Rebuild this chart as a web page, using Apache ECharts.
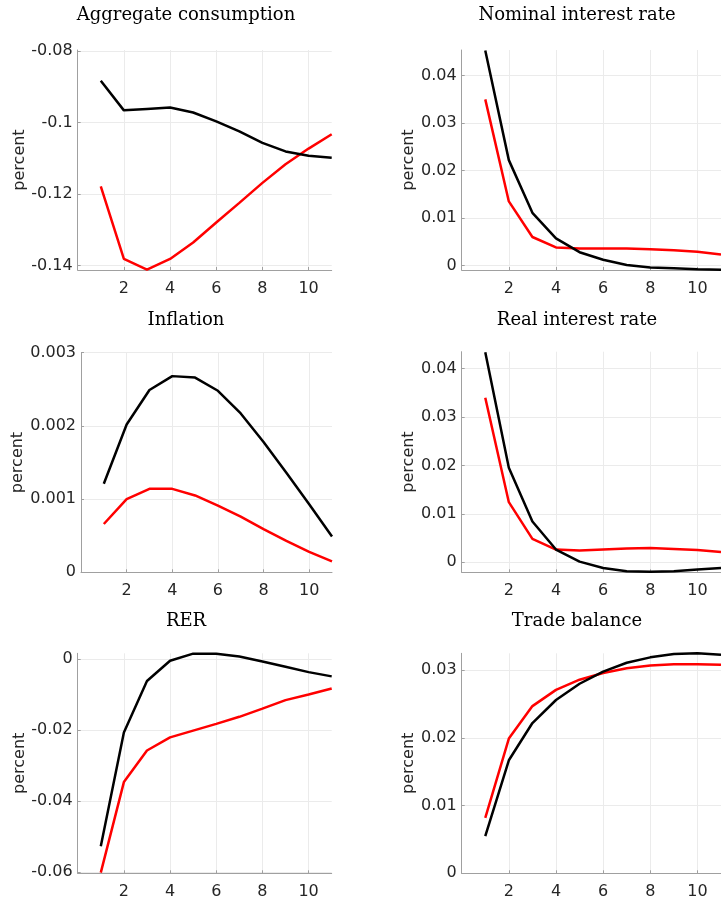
<!DOCTYPE html>
<html>
<head>
<meta charset="utf-8">
<script src="https://cdn.jsdelivr.net/npm/echarts@6/dist/echarts.min.js"></script>
<style>
  html, body { margin: 0; padding: 0; background: #fff; }
  #chart { width: 721px; height: 901px; }
</style>
</head>
<body>
<div id="chart"></div>
<script>
// horizon (quarters)
var periods = [1, 2, 3, 4, 5, 6, 7, 8, 9, 10, 11];
var xTicks = [2, 4, 6, 8, 10];

// black = baseline, red = alternative
var consBlack = [-0.0883, -0.0966, -0.0962, -0.0958, -0.0972, -0.0997, -0.1025, -0.1057, -0.1081, -0.1093, -0.1099];
var consRed   = [-0.1179, -0.1382, -0.1412, -0.1382, -0.1336, -0.1280, -0.1225, -0.1169, -0.1117, -0.1073, -0.1033];
var consTicks = [-0.14, -0.12, -0.1, -0.08];

var nomBlack = [0.0453, 0.0222, 0.0111, 0.0057, 0.0028, 0.0012, 0.0001, -0.0004, -0.0006, -0.0008, -0.0009];
var nomRed   = [0.0350, 0.0135, 0.0060, 0.0038, 0.0036, 0.0036, 0.0036, 0.0034, 0.0032, 0.0029, 0.0023];
var nomTicks = [0, 0.01, 0.02, 0.03, 0.04];

var inflBlack = [0.00121, 0.00202, 0.00249, 0.00268, 0.00266, 0.00248, 0.00217, 0.00178, 0.00136, 0.00093, 0.00049];
var inflRed   = [0.00066, 0.00100, 0.00114, 0.00114, 0.00105, 0.00091, 0.00076, 0.00059, 0.00043, 0.00028, 0.00015];
var inflTicks = [0, 0.001, 0.002, 0.003];

var realBlack = [0.0434, 0.0195, 0.0084, 0.0026, 0.0001, -0.0012, -0.0019, -0.0020, -0.0019, -0.0015, -0.0012];
var realRed   = [0.0340, 0.0124, 0.0048, 0.0026, 0.0024, 0.0026, 0.0028, 0.0029, 0.0027, 0.0025, 0.0021];
var realTicks = [0, 0.01, 0.02, 0.03, 0.04];

var rerBlack = [-0.0528, -0.0207, -0.0062, -0.0005, 0.0015, 0.0015, 0.0007, -0.0007, -0.0022, -0.0037, -0.0049];
var rerRed   = [-0.0602, -0.0347, -0.0258, -0.0221, -0.0202, -0.0183, -0.0163, -0.0140, -0.0116, -0.0100, -0.0083];
var rerTicks = [-0.06, -0.04, -0.02, 0];

var tbBlack = [0.0055, 0.0167, 0.0222, 0.0256, 0.0280, 0.0298, 0.0311, 0.0319, 0.0324, 0.0325, 0.0323];
var tbRed   = [0.0082, 0.0199, 0.0247, 0.0271, 0.0286, 0.0296, 0.0303, 0.0307, 0.0309, 0.0309, 0.0308];
var tbTicks = [0, 0.01, 0.02, 0.03];

var panels = [
  { title: 'Aggregate consumption', black: consBlack, red: consRed, ticks: consTicks, min: -0.1413, max: -0.0797,
    box: [77.7, 50, 254, 220], tx: 186, ty: 15, gap: 44 },
  { title: 'Nominal interest rate', black: nomBlack, red: nomRed, ticks: nomTicks, min: -0.00095, max: 0.0454,
    box: [461.7, 50, 260.6, 220], tx: 577, ty: 15, gap: 38 },
  { title: 'Inflation', black: inflBlack, red: inflRed, ticks: inflTicks, min: 0, max: 0.003,
    box: [81, 352.7, 251, 219.6], tx: 186, ty: 320, gap: 47 },
  { title: 'Real interest rate', black: realBlack, red: realRed, ticks: realTicks, min: -0.0021, max: 0.0435,
    box: [461.7, 351.7, 260.6, 220.6], tx: 577, ty: 320, gap: 38 },
  { title: 'RER', black: rerBlack, red: rerRed, ticks: rerTicks, min: -0.0604, max: 0.0016,
    box: [77.7, 653.3, 254, 220], tx: 186, ty: 621, gap: 44 },
  { title: 'Trade balance', black: tbBlack, red: tbRed, ticks: tbTicks, min: 0, max: 0.0325,
    box: [461.7, 653.3, 260.6, 220], tx: 577, ty: 621, gap: 38 }
];

var axisGray = '#a0a0a0';
var gridGray = '#ebebeb';
var textGray = '#262626';
var labelFont = 'DejaVu Sans';

function fmt(v) {
  return String(+v.toFixed(6));
}
function pairs(arr) {
  return periods.map(function (p, i) { return [p, arr[i]]; });
}

var grid = [], xAxis = [], yAxis = [], series = [], graphic = [];
panels.forEach(function (p, i) {
  grid.push({ left: p.box[0], top: p.box[1], width: p.box[2], height: p.box[3], containLabel: false });
  xAxis.push({
    type: 'value', gridIndex: i, min: 0, max: 11, interval: 2,
    axisLine: { onZero: false, lineStyle: { color: axisGray, width: 1 } },
    axisTick: { inside: true, length: 3, lineStyle: { color: axisGray }, customValues: xTicks },
    axisLabel: { color: textGray, fontFamily: labelFont, fontSize: 16, margin: 11,
      customValues: xTicks, showMinLabel: true, showMaxLabel: true },
    splitLine: { show: true, lineStyle: { color: gridGray, width: 1 } }
  });
  yAxis.push({
    type: 'value', gridIndex: i, min: p.min, max: p.max,
    name: 'percent', nameLocation: 'middle', nameGap: p.gap, nameRotate: 90,
    nameTextStyle: { color: textGray, fontFamily: labelFont, fontSize: 16 },
    axisLine: { show: true, onZero: false, lineStyle: { color: axisGray, width: 1 } },
    axisTick: { show: true, inside: true, length: 3, lineStyle: { color: axisGray }, customValues: p.ticks },
    axisLabel: { color: textGray, fontFamily: labelFont, fontSize: 16, margin: 5,
      customValues: p.ticks, formatter: fmt, showMinLabel: true, showMaxLabel: true },
    splitLine: { show: true, lineStyle: { color: gridGray, width: 1 } }
  });
  series.push({
    type: 'line', xAxisIndex: i, yAxisIndex: i, data: pairs(p.black),
    showSymbol: false, symbol: 'none', lineStyle: { color: '#000', width: 2.5 }, itemStyle: { color: '#000' },
    clip: false, animation: false, z: 3
  });
  series.push({
    type: 'line', xAxisIndex: i, yAxisIndex: i, data: pairs(p.red),
    showSymbol: false, symbol: 'none', lineStyle: { color: '#ff0000', width: 2.5 }, itemStyle: { color: '#ff0000' },
    clip: false, animation: false, z: 2
  });
  graphic.push({
    type: 'text', x: p.tx, y: p.ty,
    style: { text: p.title, fill: '#000', font: '18px "DejaVu Serif"', align: 'center', verticalAlign: 'middle' }
  });
});

var myChart = echarts.init(document.getElementById('chart'), null, { renderer: 'canvas' });
myChart.setOption({
  animation: false,
  backgroundColor: '#fff',
  grid: grid,
  xAxis: xAxis,
  yAxis: yAxis,
  series: series,
  graphic: graphic
});
</script>
</body>
</html>
